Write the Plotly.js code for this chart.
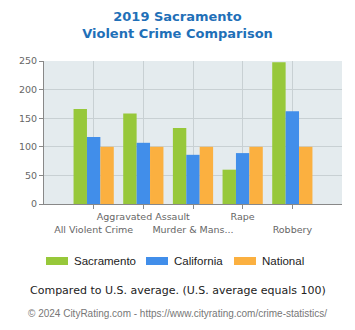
<!DOCTYPE html>
<html><head><meta charset="utf-8">
<script src="https://cdn.plot.ly/plotly-3.0.1.min.js"></script>
<style>html,body{margin:0;padding:0;background:#fff}#chart{width:355px;height:330px}</style>
</head><body><div id="chart"></div>
<script>
const categories = ["All Violent Crime", "Aggravated Assault", "Murder & Mans...", "Rape", "Robbery"];
const tickLabels = ["<br>All Violent Crime", "Aggravated Assault", "<br>Murder & Mans...", "Rape", "<br>Robbery"];
const seriesNames = ["Sacramento", "California", "National"];
const sacramento = [166, 158, 133, 60, 248];
const california = [117, 107, 86, 89, 162];
const national = [100, 100, 100, 100, 100];
const colors = ["#97c83a", "#418eea", "#fbb040"];

const values = [sacramento, california, national];
const xs = categories.map((c, i) => i);
const traces = values.map((v, k) => ({
  type: "bar", x: xs, y: v, name: seriesNames[k],
  marker: {color: colors[k]}, showlegend: false, hoverinfo: "skip"
}));

const shapes = [];
const annotations = [];
seriesNames.forEach((n, k) => {
  const x0 = [46, 146, 234][k];
  shapes.push({type: "rect", xref: "paper", yref: "paper",
    x0: (x0 - 44) / 298, x1: (x0 + 22 - 44) / 298,
    y0: (204 - 265) / 143, y1: (204 - 257) / 143,
    fillcolor: colors[k], line: {width: 0}});
  annotations.push({xref: "paper", yref: "paper", x: (x0 + 26 - 44) / 298, y: (204 - 261) / 143,
    xanchor: "left", yanchor: "middle", showarrow: false, text: n,
    font: {family: "Liberation Sans, Arial", size: 11.5, color: "#222"}});
});
annotations.push({xref: "paper", yref: "paper", x: (178 - 44) / 298, y: (204 - 290) / 143,
  xanchor: "center", yanchor: "middle", showarrow: false,
  text: "Compared to U.S. average. (U.S. average equals 100)",
  font: {family: "DejaVu Sans, Verdana", size: 11, color: "#222"}});
annotations.push({xref: "paper", yref: "paper", x: (177 - 44) / 298, y: (204 - 313) / 143,
  xanchor: "center", yanchor: "middle", showarrow: false,
  text: "© 2024 CityRating.com - https://www.cityrating.com/crime-statistics/",
  font: {family: "Liberation Sans, Arial", size: 10, color: "#777"}});

const layout = {
  width: 355, height: 330,
  margin: {l: 44, r: 13, t: 61, b: 126},
  paper_bgcolor: "#fff", plot_bgcolor: "#e4ebee",
  barmode: "group", bargap: 0.19, bargroupgap: 0,
  title: {text: "<b>2019 Sacramento<br>Violent Crime Comparison</b>",
    font: {family: "DejaVu Sans, Verdana", size: 13, color: "#1f70b8"},
    x: 0.5, xanchor: "center", y: 0.935, yanchor: "top"},
  xaxis: {range: [-1, 5], tickvals: xs, ticktext: tickLabels, tickangle: 0,
    showgrid: true, gridcolor: "#c8d0d3", ticks: "outside", ticklen: 4, tickcolor: "#888",
    showline: true, linecolor: "#888", linewidth: 1,
    tickfont: {family: "DejaVu Sans, Verdana", size: 9.5, color: "#666"}, fixedrange: true, zeroline: false},
  yaxis: {range: [0, 250], dtick: 50, showgrid: true, gridcolor: "#c8d0d3",
    ticks: "outside", ticklen: 4, tickcolor: "#888", showline: true, linecolor: "#888",
    tickfont: {family: "DejaVu Sans, Verdana", size: 9.5, color: "#666"}, zeroline: false, fixedrange: true},
  shapes: shapes, annotations: annotations
};
Plotly.newPlot("chart", traces, layout, {displayModeBar: false, staticPlot: true});
</script></body></html>
